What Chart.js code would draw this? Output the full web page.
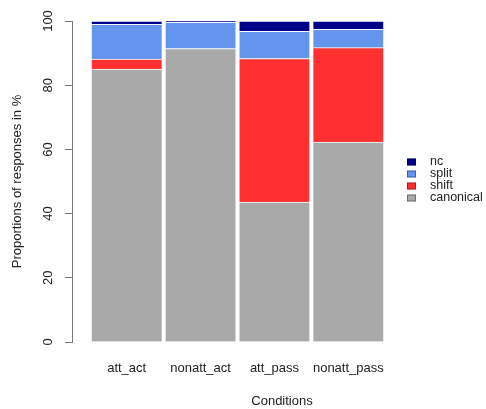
<!DOCTYPE html>
<html lang="en">
<head>
    <meta charset="UTF-8">
    <title>Proportions of responses</title>
    <style>
        html, body { margin: 0; padding: 0; background: #fff; }
        #myChart { display: block; }
    </style>
</head>
<body>
    <canvas id="myChart" width="486" height="409"></canvas>

    <script src="https://cdn.jsdelivr.net/npm/chart.js"></script>
<script>
    const categories = ['att_act', 'nonatt_act', 'att_pass', 'nonatt_pass'];
    const canonical = [85.0, 91.4, 43.6, 62.3];
    const shift = [3.1, 0, 44.7, 29.4];
    const split = [10.9, 8.2, 8.5, 5.7];
    const nc = [1.0, 0.4, 3.2, 2.6];
    const yTicks = [0, 20, 40, 60, 80, 100];

    const fontFamily = '"Liberation Sans", Arial, sans-serif';
    const textColor = '#222';
    const axisColor = '#777';

    // bars sit on a numeric x axis at 1..4 so the y axis can stand off to the left like in R
    let toPoints = (values) => values.map((v, i) => ({ x: i + 1, y: v }));

    let makeSet = (label, values, color) => ({
        label: label,
        data: toPoints(values),
        legendColor: color,
        // empty segments would leave a coloured hairline otherwise
        backgroundColor: (c) => (c.raw && c.raw.y === 0) ? 'rgba(0,0,0,0)' : color,
        borderColor: (c) => (c.raw && c.raw.y === 0) ? 'rgba(0,0,0,0)' : 'rgba(255,255,255,0.85)',
        borderWidth: { top: 1, left: 0, right: 0, bottom: 0 },
        borderSkipped: false,
        barThickness: 70
    });

    // legend and x title drawn by hand, R puts them outside the usual places
    const sideLegend = {
        id: 'sideLegend',
        afterDraw(chart) {
            const ctx = chart.ctx;
            const sets = chart.data.datasets.slice().reverse();
            ctx.save();
            ctx.font = '12.5px ' + fontFamily;
            ctx.textBaseline = 'middle';
            ctx.textAlign = 'left';
            sets.forEach((ds, i) => {
                const y = 162 + i * 12;
                ctx.fillStyle = ds.legendColor;
                ctx.fillRect(407, y - 3.5, 9, 7);
                ctx.strokeStyle = 'rgba(0,0,0,0.35)';
                ctx.lineWidth = 1;
                ctx.strokeRect(407.5, y - 3, 8, 6);
                ctx.fillStyle = textColor;
                ctx.fillText(ds.label, 430, y);
            });
            ctx.font = '13px ' + fontFamily;
            ctx.textAlign = 'center';
            ctx.fillText('Conditions', 282, 401);
            ctx.restore();
        }
    };

    const ctx = document.getElementById('myChart');

    new Chart(ctx, {
        type: 'bar',
        data: {
            datasets: [
                makeSet('canonical', canonical, '#a9a9a9'),
                makeSet('shift', shift, '#ff3030'),
                makeSet('split', split, '#6495ed'),
                makeSet('nc', nc, '#00008b')
            ]
        },
        options: {
            responsive: false,
            animation: false,
            devicePixelRatio: 1,
            layout: { padding: { top: 21, left: 0, right: 90, bottom: 0 } },
            plugins: {
                legend: { display: false },
                tooltip: { enabled: false }
            },
            scales: {
                x: {
                    type: 'linear',
                    stacked: true,
                    offset: false,
                    min: 0.26,
                    max: 4.645,
                    afterBuildTicks: (s) => { s.ticks = categories.map((c, i) => ({ value: i + 1 })); },
                    afterFit: (s) => { s.height = 67; },
                    ticks: {
                        callback: (v) => categories[v - 1],
                        autoSkip: false,
                        maxRotation: 0,
                        padding: 19,
                        color: textColor,
                        font: { family: fontFamily, size: 13 }
                    },
                    grid: { display: false, drawTicks: false, offset: false },
                    border: { display: false }
                },
                y: {
                    stacked: true,
                    min: 0,
                    max: 100,
                    afterBuildTicks: (s) => { s.ticks = yTicks.map(v => ({ value: v })); },
                    afterFit: (s) => { s.width = 72; },
                    ticks: {
                        minRotation: 90,
                        maxRotation: 90,
                        crossAlign: 'center',
                        padding: 6,
                        color: textColor,
                        font: { family: fontFamily, size: 13 }
                    },
                    grid: { drawOnChartArea: false, drawTicks: true, tickLength: 7, color: axisColor },
                    border: { display: true, color: axisColor },
                    title: {
                        display: true,
                        text: 'Proportions of responses in %',
                        color: textColor,
                        font: { family: fontFamily, size: 13 },
                        padding: { top: 10, bottom: 0 }
                    }
                }
            }
        },
        plugins: [sideLegend]
    });
</script>
</body>
</html>
